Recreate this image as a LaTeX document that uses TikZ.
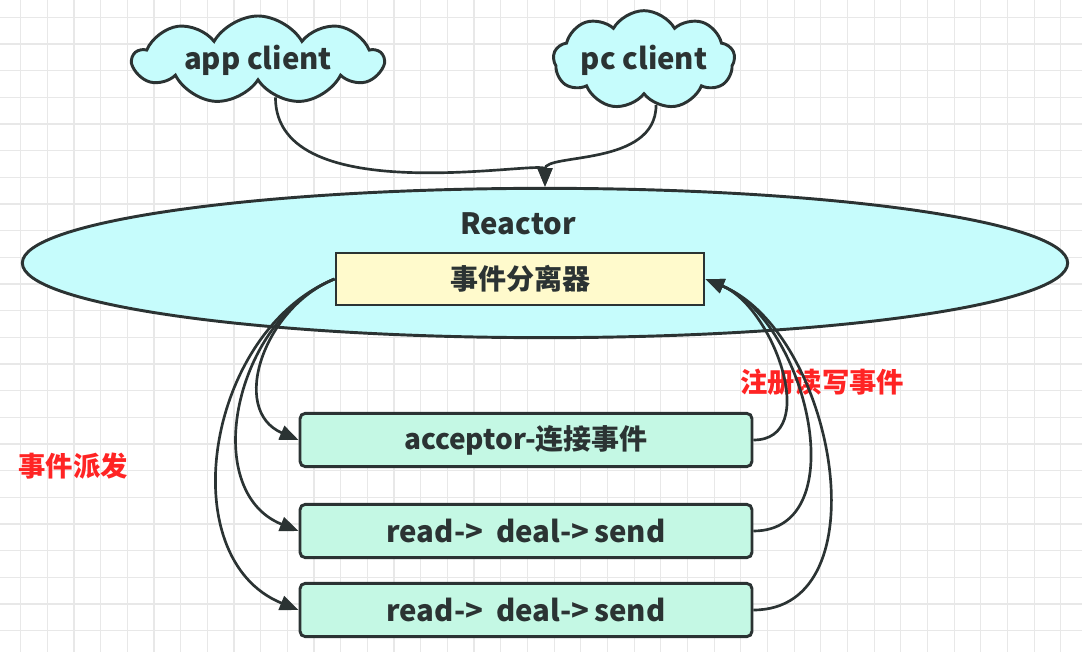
\documentclass[tikz,border=0pt]{standalone}
\usepackage{fontspec}
\setmainfont{Noto Sans CJK SC}
\usetikzlibrary{shapes.symbols,shapes.geometric,arrows.meta}
\definecolor{ln}{HTML}{2B3333}
\definecolor{cy}{HTML}{C6FCFC}
\definecolor{mint}{HTML}{C4F8E4}
\definecolor{lemon}{HTML}{FFFACC}
\definecolor{gr}{HTML}{E8E8E8}
\definecolor{rd}{HTML}{FF2424}
\newcommand\latf{\bfseries\fontsize{22}{26}\selectfont}
\newcommand\cjkf{\bfseries\fontsize{21}{25}\selectfont}
\tikzset{lat/.style={text=ln,font=\latf},
cjk/.style={text=ln,font=\cjkf},
cl/.style={cloud,cloud puffs=9,cloud puff arc=120,cloud ignores aspect,draw=ln,fill=cy,line width=2.2pt,inner sep=0pt,lat},
bx/.style={rectangle,rounded corners=4pt,draw=ln,fill=mint,line width=2.2pt,minimum width=339pt,minimum height=40pt,inner sep=0pt},
sep/.style={rectangle,draw=ln,fill=lemon,line width=2.2pt,minimum width=276pt,minimum height=39pt,inner sep=0pt,cjk},
lbl/.style={text=rd,font=\bfseries\fontsize{20.5}{24}\selectfont},
arr/.style={draw=ln,line width=2pt,-{Triangle[length=14pt,width=11pt]}}}
\begin{document}
\begin{tikzpicture}[x=0.75pt,y=-0.75pt]
\useasboundingbox (0,0) rectangle (1082,652);
\foreach \i in {0,...,40} \draw[gr,line width=0.9pt] (20.7+26.67*\i,0) -- (20.7+26.67*\i,652);
\foreach \i in {0,...,24} \draw[gr,line width=0.9pt] (0,17.3+26.67*\i) -- (1082,17.3+26.67*\i);
\node[cl,minimum width=187pt,minimum height=66pt] (app) at (258,60) {app client};
\node[cl,minimum width=136pt,minimum height=74pt] (pc) at (644,60) {pc client};
\node[ellipse,draw=ln,fill=cy,line width=2.2pt,minimum width=784pt,minimum height=112pt] (reactor) at (545,263) {};
\node[lat] (rt) at (518,224) {Reactor};
\node[sep] (disp) at (520,279) {事件分离器};
\node[bx,cjk] (acc) at (526,440) {acceptor-连接事件};
\node[bx,lat] (rw1) at (526,531) {read->\ \ deal->\,send};
\node[bx,lat] (rw2) at (526,610) {read->\ \ deal->\,send};
\node[lbl] (fa) at (73,466) {事件派发};
\node[lbl] (zc) at (822,382) {注册读写事件};
\draw[arr] (app.-65) .. controls +(0,115) and +(0,-28) .. (reactor.north);
\draw[arr] (pc.-75) .. controls +(0,62) and +(0,-34) .. (reactor.north);
\draw[arr] (disp.west) .. controls +(-70,28) and +(-70,-30) .. (acc.west);
\draw[arr] (disp.west) .. controls +(-100,40) and +(-100,-40) .. (rw1.west);
\draw[arr] (disp.west) .. controls +(-128,52) and +(-128,-52) .. (rw2.west);
\draw[arr] (acc.east) .. controls +(68,0) and +(68,28) .. (disp.east);
\draw[arr] (rw1.east) .. controls +(102,0) and +(102,42) .. (disp.east);
\draw[arr] (rw2.east) .. controls +(130,0) and +(130,54) .. (disp.east);
\end{tikzpicture}
\end{document}
